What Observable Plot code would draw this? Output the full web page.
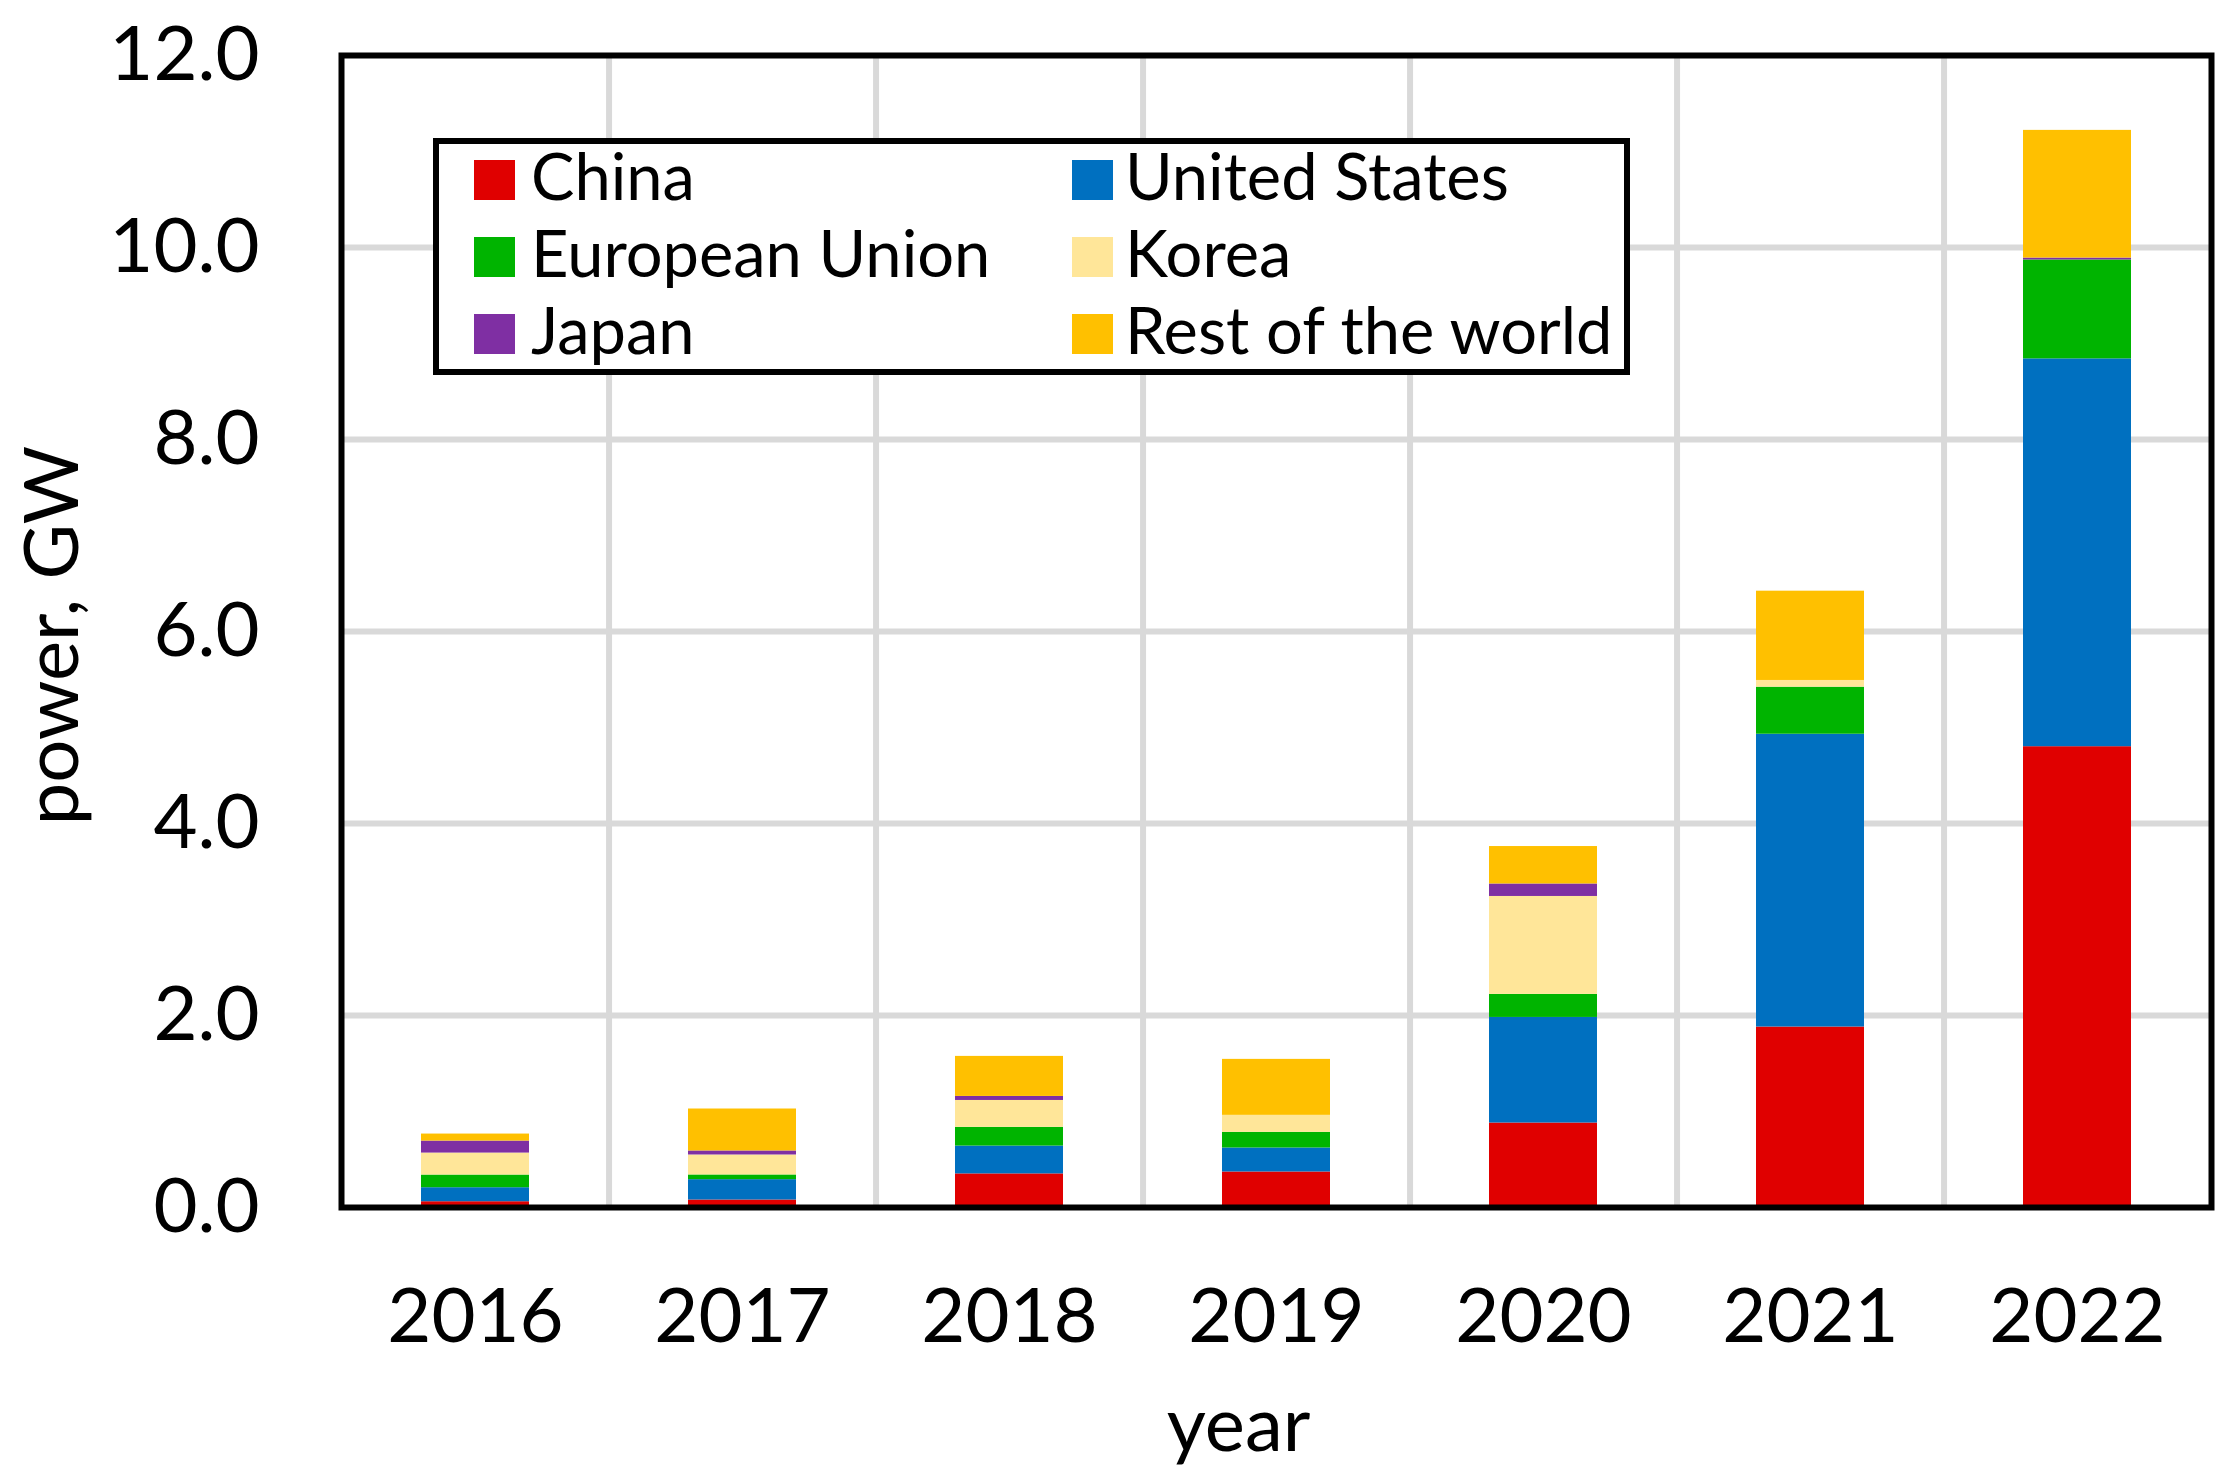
<!DOCTYPE html>
<html>
<head>
<meta charset="utf-8">
<script src="https://cdn.jsdelivr.net/npm/d3@7"></script>
<script src="https://cdn.jsdelivr.net/npm/@observablehq/plot@0.6"></script>
<style>
  html, body { margin: 0; padding: 0; background: #fff; }
  #wrap { position: relative; width: 2234px; height: 1480px; }
  #legend { position: absolute; left: 0; top: 0; pointer-events: none; overflow: visible; }
</style>
</head>
<body>
<div id="wrap"></div>
<script>
// ---- data ----
const years = ["2016", "2017", "2018", "2019", "2020", "2021", "2022"];
const seriesNames = ["China", "United States", "European Union", "Korea", "Japan", "Rest of the world"];
const seriesColors = ["#e00000", "#0070c0", "#00b400", "#ffe699", "#7f2fa3", "#ffc000"];
const china = [0.06, 0.078, 0.35, 0.37, 0.88, 1.88, 4.80];
const unitedStates = [0.146, 0.212, 0.29, 0.25, 1.10, 3.05, 4.04];
const europeanUnion = [0.132, 0.049, 0.195, 0.163, 0.24, 0.49, 1.03];
const korea = [0.229, 0.208, 0.28, 0.177, 1.02, 0.07, 0.0];
const japan = [0.125, 0.042, 0.042, 0.0, 0.13, 0.0, 0.02];
const restOfWorld = [0.073, 0.437, 0.417, 0.583, 0.39, 0.93, 1.33];
const yTicks = [0, 2, 4, 6, 8, 10, 12];
const yGrid = [2, 4, 6, 8, 10];
const xLabel = "year";
const yLabel = "power, GW";

const seriesValues = [china, unitedStates, europeanUnion, korea, japan, restOfWorld];
const rows = [];
years.forEach((yr, i) => {
  seriesNames.forEach((s, k) => rows.push({year: yr, series: s, value: seriesValues[k][i]}));
});

const W = 2234, H = 1480;
const mL = 341, mR = 23, mT = 55, mB = 273;
const halfStep = (W - mL - mR) / years.length / 2;

const chart = Plot.plot({
  width: W,
  height: H,
  marginLeft: mL,
  marginRight: mR,
  marginTop: mT,
  marginBottom: mB,
  style: {background: "#fff", fontFamily: "Lato, 'Open Sans', sans-serif", color: "#000"},
  x: {domain: years, paddingInner: 0.595, paddingOuter: 0.2975, label: null},
  y: {domain: [0, 12], label: null},
  color: {domain: seriesNames, range: seriesColors},
  marks: [
    Plot.ruleY(yGrid, {stroke: "#d9d9d9", strokeWidth: 6}),
    Plot.ruleX(years.slice(0, -1), {stroke: "#d9d9d9", strokeWidth: 6, dx: halfStep}),
    Plot.barY(rows, Plot.stackY({order: seriesNames}, {x: "year", y: "value", fill: "series", z: "series"})),
    Plot.frame({stroke: "#000", strokeWidth: 6}),
    Plot.axisY({ticks: yTicks, tickFormat: d => d.toFixed(1), tickSize: 0, tickPadding: 82, fontSize: 76, label: null}),
    Plot.axisX({tickSize: 0, tickPadding: 81, fontSize: 76, label: null}),
    Plot.text([yLabel], {frameAnchor: "left", text: d => d, rotate: -90, textAnchor: "middle", lineAnchor: "bottom", fontSize: 76, dx: 77 - mL, dy: 4, fill: "#000"}),
    Plot.text([xLabel], {frameAnchor: "bottom", text: d => d, textAnchor: "middle", lineAnchor: "bottom", fontSize: 76, dx: -38, dy: 243, fill: "#000"})
  ]
});
document.getElementById("wrap").appendChild(chart);

// ---- legend overlay ----
const lx = 433, ly = 138, lw = 1197, lh = 237;
const legSvg = d3.select("#wrap").append("svg")
  .attr("id", "legend").attr("width", W).attr("height", H)
  .style("font-family", "Lato, 'Open Sans', sans-serif");
const leg = legSvg.append("g").attr("transform", `translate(${lx},${ly})`);
leg.append("rect").attr("x", 3).attr("y", 3).attr("width", lw - 6).attr("height", lh - 6)
  .attr("fill", "#fff").attr("stroke", "#000").attr("stroke-width", 6);
const colX = [41, 639], textX = [98, 692], rowTop = [22, 99, 176];
seriesNames.forEach((s, i) => {
  const r = Math.floor(i / 2), c = i % 2;
  leg.append("rect").attr("x", colX[c]).attr("y", rowTop[r]).attr("width", 41).attr("height", 40)
    .attr("fill", seriesColors[i]);
  leg.append("text").attr("x", textX[c]).attr("y", rowTop[r] + 40).attr("font-size", 65)
    .attr("fill", "#000").text(s);
});
</script>
</body>
</html>
